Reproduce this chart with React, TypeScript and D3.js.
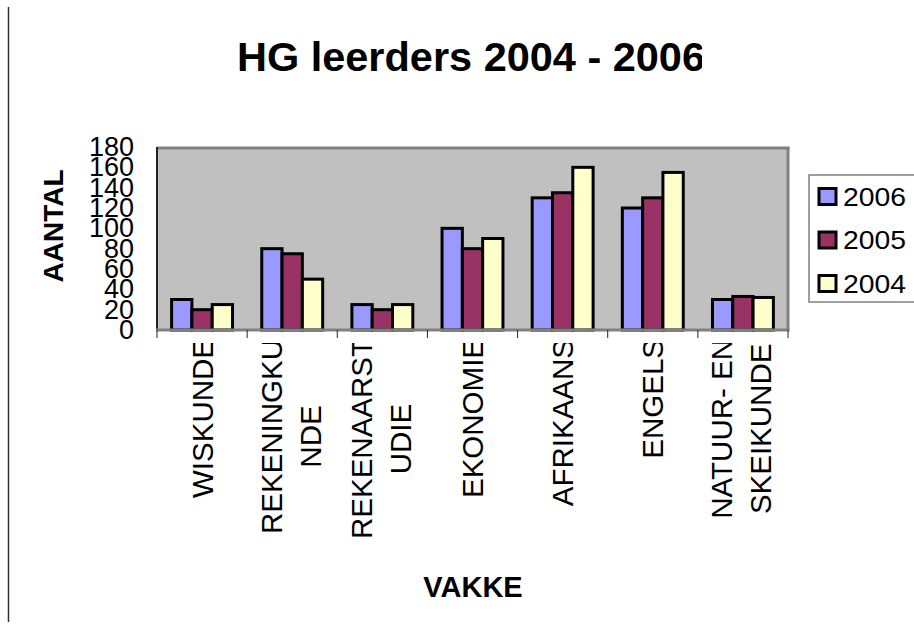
import React from "react";
import * as d3 from "d3";

const categories = [
  "WISKUNDE",
  "REKENINGKUNDE",
  "REKENAARSTUDIE",
  "EKONOMIE",
  "AFRIKAANS",
  "ENGELS",
  "NATUUR- EN SKEIKUNDE",
];
// how the labels wrap in the original
const categoryLines = [
  ["WISKUNDE"],
  ["REKENINGKU", "NDE"],
  ["REKENAARST", "UDIE"],
  ["EKONOMIE"],
  ["AFRIKAANS"],
  ["ENGELS"],
  ["NATUUR- EN", "SKEIKUNDE"],
];
const seriesNames = ["2006", "2005", "2004"];
const values2006 = [30, 80, 25, 100, 130, 120, 30];
const values2005 = [20, 75, 20, 80, 135, 130, 33];
const values2004 = [25, 50, 25, 90, 160, 155, 32];
const yTicks = [0, 20, 40, 60, 80, 100, 120, 140, 160, 180];

const seriesValues = [values2006, values2005, values2004];
const colors = ["#9999FF", "#993366", "#FFFFCC"];
const FONT = "'Liberation Sans', Arial, Helvetica, sans-serif";

const measure = (text: string, font: string) => {
  const ctx = document.createElement("canvas").getContext("2d");
  if (!ctx) return text.length * 16;
  ctx.font = font;
  return ctx.measureText(text).width;
};

const App = () => {
  const width = 914;
  const height = 628;
  const plot = { left: 157, right: 788, top: 147, bottom: 330 };

  const x0 = d3
    .scaleBand<string>()
    .domain(categories)
    .range([plot.left, plot.right])
    .padding(0);
  const x1 = d3
    .scaleBand<string>()
    .domain(seriesNames)
    .range([0, x0.bandwidth()])
    .paddingInner(0)
    .paddingOuter(0.72);
  const y = d3.scaleLinear().domain([0, 180]).range([plot.bottom, plot.top]);
  const color = d3.scaleOrdinal<string>().domain(seriesNames).range(colors);

  const labelFont = `29.5px ${FONT}`;
  const labelTop = 339;

  return (
    <svg
      width={width}
      height={height}
      style={{ position: "absolute", left: 0, top: 0, display: "block", background: "#fff" }}
      fontFamily={FONT}
    >
      <defs>
        <clipPath id="titleClip">
          <rect x={0} y={0} width={702} height={120} />
        </clipPath>
        <clipPath id="labelClip">
          <rect x={plot.left - 20} y={343} width={width} height={240} />
        </clipPath>
      </defs>

      {/* chart area left edge */}
      <line x1={8.5} x2={8.5} y1={7} y2={622} stroke="#333" strokeWidth={1.5} />

      {/* Title */}
      <text
        x={237}
        y={71}
        fontSize={41}
        fontWeight="bold"
        fill="#000"
        textLength={468}
        lengthAdjust="spacingAndGlyphs"
        clipPath="url(#titleClip)"
      >
        HG leerders 2004 - 2006
      </text>

      {/* Plot area */}
      <rect
        x={plot.left}
        y={plot.top}
        width={plot.right - plot.left}
        height={plot.bottom - plot.top}
        fill="#C0C0C0"
      />

      {/* Bars */}
      {categories.map((cat, ci) => (
        <g key={cat} transform={`translate(${x0(cat)},0)`}>
          {seriesNames.map((s, si) => {
            const v = seriesValues[si][ci];
            return (
              <rect
                key={s}
                x={x1(s)}
                y={y(v)}
                width={x1.bandwidth()}
                height={y(0) - y(v)}
                fill={color(s)}
                stroke="#000"
                strokeWidth={3}
              />
            );
          })}
        </g>
      ))}

      {/* plot border */}
      <line x1={plot.left} x2={plot.right + 1.5} y1={plot.top + 1} y2={plot.top + 1} stroke="#808080" strokeWidth={3} />
      <line x1={plot.right} x2={plot.right} y1={plot.top} y2={plot.bottom} stroke="#808080" strokeWidth={3} />
      <line x1={plot.left} x2={plot.left} y1={plot.top} y2={plot.bottom} stroke="#222" strokeWidth={2} />
      <line x1={plot.left - 1} x2={plot.right + 1.5} y1={plot.bottom} y2={plot.bottom} stroke="#808080" strokeWidth={3} />

      {/* X ticks */}
      {categories.map((cat) => (
        <line
          key={`t-${cat}`}
          x1={x0(cat)!}
          x2={x0(cat)!}
          y1={plot.bottom}
          y2={plot.bottom + 8}
          stroke="#222"
          strokeWidth={1}
        />
      ))}
      <line x1={plot.right} x2={plot.right} y1={plot.bottom} y2={plot.bottom + 8} stroke="#222" strokeWidth={1} />

      {/* Y tick labels (they overlap in the original too) */}
      {yTicks.map((t) => (
        <text
          key={`y-${t}`}
          x={134}
          y={y(t)}
          textAnchor="end"
          dominantBaseline="central"
          fontSize={27}
          fill="#000"
        >
          {t}
        </text>
      ))}

      {/* X labels, rotated */}
      <g clipPath="url(#labelClip)">
        {categories.map((cat, ci) => {
          const lines = categoryLines[ci];
          const cx = x0(cat)! + x0.bandwidth() / 2;
          const blockLen = d3.max(lines, (l) => measure(l, labelFont)) || 0;
          const offsets = lines.length === 1 ? [0] : [-21, 18];
          return (
            <g key={`l-${cat}`} transform={`translate(${cx},${labelTop}) rotate(-90)`}>
              {lines.map((line, li) => (
                <text
                  key={li}
                  x={-blockLen / 2}
                  y={offsets[li]}
                  textAnchor="middle"
                  dominantBaseline="central"
                  fontSize={29.5}
                  fill="#000"
                >
                  {line}
                </text>
              ))}
            </g>
          );
        })}
      </g>

      {/* Axis titles */}
      <text
        transform={`translate(53,226) rotate(-90)`}
        textAnchor="middle"
        dominantBaseline="central"
        fontSize={28}
        fontWeight="bold"
        fill="#000"
      >
        AANTAL
      </text>
      <text x={473} y={597} textAnchor="middle" fontSize={29} fontWeight="bold" fill="#000">
        VAKKE
      </text>

      {/* Legend */}
      <rect x={809} y={175} width={130} height={127} fill="#fff" stroke="#808080" strokeWidth={1.5} />
      {seriesNames.map((s, i) => {
        const cy = 196.5 + i * 43.5;
        return (
          <g key={`lg-${s}`}>
            <rect x={819} y={cy - 8} width={17} height={16} fill={color(s)} stroke="#000" strokeWidth={3} />
            <text
              x={843}
              y={cy}
              dominantBaseline="central"
              fontSize={26}
              fill="#000"
              textLength={63}
              lengthAdjust="spacingAndGlyphs"
            >
              {s}
            </text>
          </g>
        );
      })}
    </svg>
  );
};

export default App;
